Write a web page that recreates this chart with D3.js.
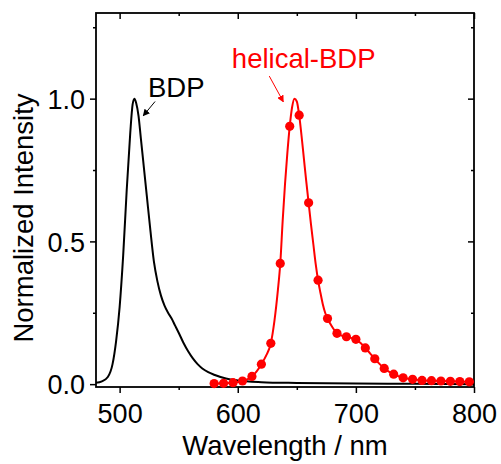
<!DOCTYPE html>
<html>
<head>
<meta charset="utf-8">
<script src="https://cdn.jsdelivr.net/npm/d3@7"></script>
<style>
  body { margin: 0; background: #fff; }
  text { font-family: Arial, "Liberation Sans", sans-serif; }
</style>
</head>
<body>
<div id="chart"></div>
<script>
// BDP emission (black line)
const bdpWavelength = [480, 485, 490, 494, 497, 500, 503, 506, 509, 511, 512.5, 514, 516, 518, 520, 523, 526, 529, 532, 535, 538, 541, 544, 547, 550, 554, 558, 562, 566, 570, 575, 580, 590, 600, 620, 650, 700, 750, 800];
const bdpIntensity  = [0.005, 0.01, 0.025, 0.07, 0.15, 0.27, 0.45, 0.68, 0.88, 0.98, 1.0, 0.985, 0.94, 0.86, 0.78, 0.66, 0.54, 0.43, 0.36, 0.31, 0.275, 0.25, 0.23, 0.205, 0.18, 0.145, 0.115, 0.09, 0.07, 0.055, 0.042, 0.033, 0.02, 0.013, 0.007, 0.004, 0.002, 0.001, 0.0];

// helical-BDP emission (red line)
const helWavelength = [580, 588, 596, 604, 612, 616, 620, 624, 628, 631, 634, 636, 638, 640, 642, 644, 646, 648, 650, 652, 654, 656, 658, 660, 662, 664, 666, 668, 670, 672, 674, 676, 680, 684, 688, 692, 696, 700, 704, 708, 712, 716, 720, 724, 728, 732, 740, 748, 756, 764, 772, 780, 788, 796, 800];
const helIntensity  = [0.002, 0.003, 0.005, 0.011, 0.027, 0.045, 0.07, 0.10, 0.143, 0.22, 0.33, 0.423, 0.57, 0.70, 0.81, 0.903, 0.97, 1.0, 0.99, 0.942, 0.87, 0.79, 0.71, 0.635, 0.56, 0.49, 0.42, 0.364, 0.32, 0.28, 0.25, 0.23, 0.20, 0.178, 0.17, 0.166, 0.162, 0.157, 0.144, 0.127, 0.108, 0.089, 0.071, 0.055, 0.044, 0.035, 0.022, 0.017, 0.013, 0.012, 0.011, 0.010, 0.009, 0.008, 0.008];

// helical-BDP markers (every 8 nm)
const dotWavelength = [580, 588, 596, 604, 612, 620, 628, 636, 644, 652, 660, 668, 676, 684, 692, 700, 708, 716, 724, 732, 740, 748, 756, 764, 772, 780, 788, 796];
const dotIntensity  = [0.002, 0.003, 0.005, 0.011, 0.027, 0.07, 0.143, 0.423, 0.903, 0.942, 0.635, 0.364, 0.23, 0.178, 0.166, 0.157, 0.127, 0.089, 0.055, 0.035, 0.022, 0.017, 0.013, 0.012, 0.011, 0.010, 0.009, 0.008];

// axes
const xMajorTicks = [500, 600, 700, 800];
const xMinorTicks = [550, 650, 750];
const yMajorTicks = [0, 0.5, 1.0];
const yMinorTicks = [0.25, 0.75, 1.25];

// annotations: label position and arrow (from -> to), data units
const labels = [
  {text: "BDP", x: 524, y: 1.006, color: "#000"},
  {text: "helical-BDP", x: 595, y: 1.107, color: "#ff0000"}
];
const arrows = [
  {x1: 530, y1: 0.99, x2: 520, y2: 0.94, color: "#000"},
  {x1: 626.7, y1: 1.079, x2: 638.6, y2: 0.989, color: "#ff0000"}
];

const W = 501, H = 464;
const margin = {top: 13, right: 27, bottom: 77, left: 96};

const svg = d3.select("#chart").append("svg")
    .attr("width", W)
    .attr("height", H);

const x = d3.scaleLinear().domain([480, 800]).range([margin.left, W - margin.right]);
const y = d3.scaleLinear().domain([-0.01, 1.3]).range([H - margin.bottom, margin.top]);

const fmt = d3.format(".1f");

function styleAxis(g) {
  g.select(".domain").remove();
  g.selectAll("line").attr("stroke", "#000").attr("stroke-width", 1.5);
  g.selectAll("text").attr("font-size", 27).attr("fill", "#000");
}

// bottom axis (outward ticks)
svg.append("g")
    .attr("transform", `translate(0,${y.range()[0]})`)
    .call(d3.axisBottom(x).tickValues(xMajorTicks).tickSize(6).tickPadding(8).tickFormat(d3.format("d")))
    .call(styleAxis)
    .call(g => g.selectAll("text").attr("dy", "0.82em"));
svg.append("g")
    .attr("transform", `translate(0,${y.range()[0]})`)
    .call(d3.axisBottom(x).tickValues(xMinorTicks).tickSize(3).tickFormat(""))
    .call(styleAxis);

// top axis (inward ticks)
svg.append("g")
    .attr("transform", `translate(0,${y.range()[1]})`)
    .call(d3.axisTop(x).tickValues(xMajorTicks).tickSize(-6).tickFormat(""))
    .call(styleAxis);
svg.append("g")
    .attr("transform", `translate(0,${y.range()[1]})`)
    .call(d3.axisTop(x).tickValues(xMinorTicks).tickSize(-3).tickFormat(""))
    .call(styleAxis);

// left axis (outward ticks)
svg.append("g")
    .attr("transform", `translate(${x.range()[0]},0)`)
    .call(d3.axisLeft(y).tickValues(yMajorTicks).tickSize(6).tickPadding(5).tickFormat(fmt))
    .call(styleAxis)
    .call(g => g.selectAll("text").attr("dy", "0.36em"));
svg.append("g")
    .attr("transform", `translate(${x.range()[0]},0)`)
    .call(d3.axisLeft(y).tickValues(yMinorTicks).tickSize(3).tickFormat(""))
    .call(styleAxis);

// right axis (inward ticks)
svg.append("g")
    .attr("transform", `translate(${x.range()[1]},0)`)
    .call(d3.axisRight(y).tickValues(yMajorTicks).tickSize(-6).tickFormat(""))
    .call(styleAxis);
svg.append("g")
    .attr("transform", `translate(${x.range()[1]},0)`)
    .call(d3.axisRight(y).tickValues(yMinorTicks).tickSize(-3).tickFormat(""))
    .call(styleAxis);

// frame
svg.append("rect")
    .attr("x", x.range()[0])
    .attr("y", y.range()[1])
    .attr("width", x.range()[1] - x.range()[0])
    .attr("height", y.range()[0] - y.range()[1])
    .attr("fill", "none")
    .attr("stroke", "#000")
    .attr("stroke-width", 1.8);

// curves
const line = d3.line()
    .x(d => x(d[0]))
    .y(d => y(d[1]))
    .curve(d3.curveMonotoneX);

svg.append("path")
    .datum(d3.zip(bdpWavelength, bdpIntensity))
    .attr("fill", "none")
    .attr("stroke", "#000")
    .attr("stroke-width", 2)
    .attr("d", line);

svg.append("path")
    .datum(d3.zip(helWavelength, helIntensity))
    .attr("fill", "none")
    .attr("stroke", "#ff0000")
    .attr("stroke-width", 2)
    .attr("d", line);

svg.append("g")
  .selectAll("circle")
  .data(d3.zip(dotWavelength, dotIntensity))
  .join("circle")
    .attr("cx", d => x(d[0]))
    .attr("cy", d => y(d[1]))
    .attr("r", 4.6)
    .attr("fill", "#ff0000");

// axis titles
svg.append("text")
    .attr("x", (x.range()[0] + x.range()[1]) / 2)
    .attr("y", 455)
    .attr("text-anchor", "middle")
    .attr("font-size", 27.5)
    .text("Wavelength / nm");

svg.append("text")
    .attr("transform", `translate(33,218) rotate(-90)`)
    .attr("text-anchor", "middle")
    .attr("font-size", 27.5)
    .text("Normalized Intensity");

// annotations
const defs = svg.append("defs");
arrows.forEach((a, i) => {
  defs.append("marker")
      .attr("id", "arrow" + i)
      .attr("viewBox", "0 0 10 10")
      .attr("refX", 9)
      .attr("refY", 5)
      .attr("markerWidth", 7)
      .attr("markerHeight", 7)
      .attr("markerUnits", "userSpaceOnUse")
      .attr("orient", "auto")
    .append("path")
      .attr("d", "M0,0 L10,5 L0,10 z")
      .attr("fill", a.color);
});

svg.append("g")
  .selectAll("line")
  .data(arrows)
  .join("line")
    .attr("x1", d => x(d.x1))
    .attr("y1", d => y(d.y1))
    .attr("x2", d => x(d.x2))
    .attr("y2", d => y(d.y2))
    .attr("stroke", d => d.color)
    .attr("stroke-width", 1)
    .attr("marker-end", (d, i) => `url(#arrow${i})`);

svg.append("g")
  .selectAll("text")
  .data(labels)
  .join("text")
    .attr("x", d => x(d.x))
    .attr("y", d => y(d.y))
    .attr("font-size", 27.5)
    .attr("fill", d => d.color)
    .text(d => d.text);
</script>
</body>
</html>
